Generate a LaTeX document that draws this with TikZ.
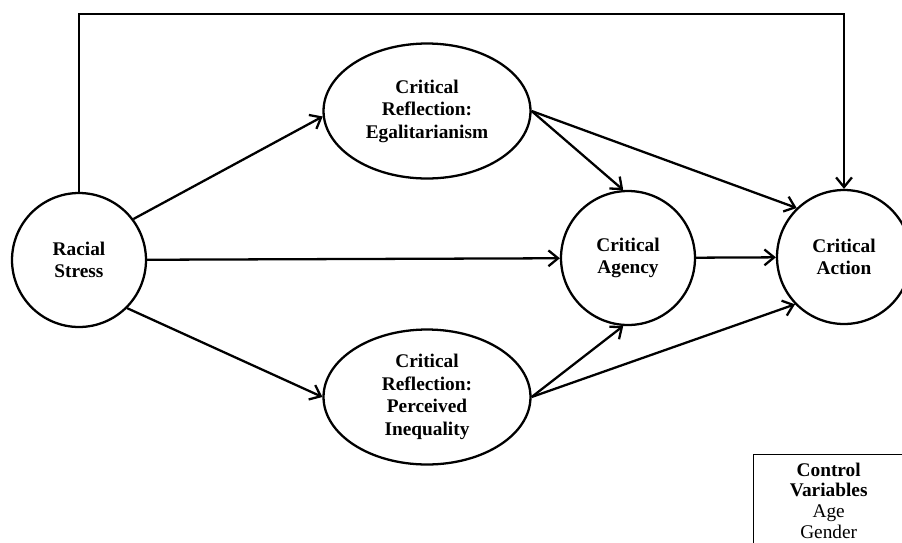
\documentclass[tikz,border=0pt]{standalone}
\usepackage{fontspec}
\setmainfont{Liberation Serif}
\usepackage{tikz}
\usetikzlibrary{shapes.geometric,arrows.meta}

\tikzset{
  construct/.style={draw=black, line width=1.3pt, circle, minimum size=2.68cm, inner sep=0pt, align=center, font=\fontsize{11}{12.8}\selectfont\bfseries},
  reflection/.style={draw=black, line width=1.3pt, ellipse, minimum width=4.14cm, minimum height=2.7cm, inner sep=0pt, align=center, font=\fontsize{11}{12.8}\selectfont\bfseries},
  link/.style={line width=1.3pt, -{Straight Barb[length=5.5pt,width=9pt]}}
}

\begin{document}
\begin{tikzpicture}[x=0.02cm, y=-0.02cm]
% Picture size: 902 x 542 units, origin at the top left, y going down
\clip (0,0) rectangle (902,542);

% The constructs
% "construct" = circle, "reflection" = ellipse
\node[construct] (racial) at (79,260) {Racial\\Stress};
\node[construct] (agency) at (628,258) {Critical\\Agency};
\node[construct] (action) at (844,257) {Critical\\Action};
\node[reflection] (egal) at (427,111) {Critical\\Reflection:\\Egalitarianism};
\node[reflection] (ineq) at (427,397) {Critical\\Reflection:\\Perceived\\Inequality};

% Control variables box (runs off the lower right edge)
\node[draw=black, line width=0.8pt, anchor=north west, minimum width=3cm, inner sep=4.5pt, align=center, font=\fontsize{11}{11.8}\selectfont] (controls) at (753,454) {\textbf{Control}\\\textbf{Variables}\\Age\\Gender};

% Paths between the constructs
\draw[link] (racial.37) -- (egal.183);
\draw[link] (racial.-45) -- (ineq.west);
\draw[link] (racial) -- (agency);
\draw[link] (egal.east) -- (agency.94);
\draw[link] (egal.east) -- (action.134);
\draw[link] (ineq.east) -- (agency.266);
\draw[link] (ineq.east) -- (action.224);
\draw[link] (agency) -- (action);

% Direct path over the top
\coordinate (top) at (0,14);
\draw[link] (racial.north) -- (racial.north |- top) -- (action.north |- top) -- (action.north);
\end{tikzpicture}
\end{document}
